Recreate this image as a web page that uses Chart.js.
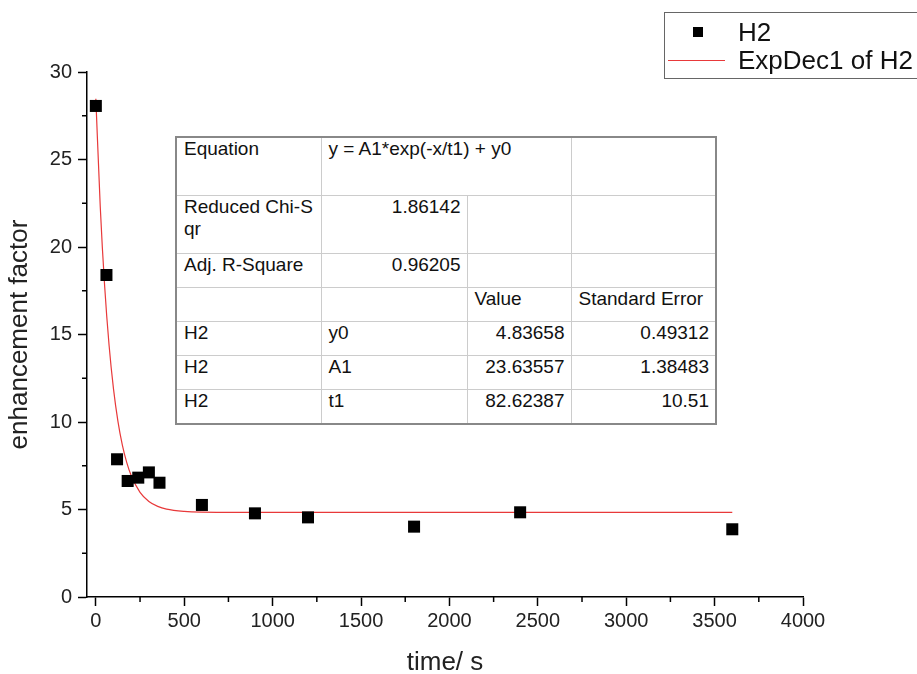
<!DOCTYPE html>
<html>
<head>
<meta charset="utf-8">
<script src="https://cdn.jsdelivr.net/npm/chart.js@4/dist/chart.umd.min.js"></script>
<style>
  body { margin: 0; background: #fff; font-family: "Liberation Sans", Arial, sans-serif; }
  #wrap { position: relative; width: 917px; height: 674px; }
  #legend { position: absolute; left: 664px; top: 12px; width: 260px; height: 67px; border: 1px solid #666; box-sizing: border-box; font-size: 26px; color: #111; }
  #legend .row { position: absolute; left: 0; height: 28px; line-height: 28px; white-space: nowrap; }
  #legend .sq { position: absolute; left: 28px; top: 9px; width: 10px; height: 10px; background: #000; }
  #legend .ln { position: absolute; left: 3px; top: 14px; width: 57px; height: 1px; background: #e8393a; }
  #legend .tx { position: absolute; left: 73px; top: 0; }
  #fitTable { position: absolute; left: 175px; top: 136px; border-collapse: collapse; font-size: 19px; color: #111; background: #fff; border: 2px solid #888; }
  #fitTable td { border: 1px solid #ccc; padding: 0 6px 0 7px; vertical-align: top; line-height: 22px; box-sizing: border-box; white-space: nowrap; }
  #fitTable td.r { text-align: right; }
</style>
</head>
<body>
<div id="wrap">
  <canvas id="chart" width="917" height="674"></canvas>
  <div id="legend">
    <div class="row" style="top:5px;"><span class="sq"></span><span class="tx">H2</span></div>
    <div class="row" style="top:33px;"><span class="ln"></span><span class="tx">ExpDec1 of H2</span></div>
  </div>
  <table id="fitTable"></table>
</div>
<script>
// measured points (time in s, enhancement factor)
const timeH2 = [0, 60, 120, 180, 240, 300, 360, 600, 900, 1200, 1800, 2400, 3600];
const valuesH2 = [28.06, 18.4, 7.87, 6.63, 6.82, 7.12, 6.53, 5.26, 4.78, 4.55, 4.02, 4.84, 3.87];

// fitted curve
const timeFit = [0, 25, 50, 75, 100, 125, 150, 175, 200, 250, 300, 350, 400, 500, 600, 800, 1000, 3600];
const valuesFit = [28.47, 22.30, 17.74, 14.37, 11.88, 10.04, 8.68, 7.68, 6.94, 5.98, 5.46, 5.18, 5.02, 4.89, 4.85, 4.84, 4.84, 4.84];

// axis ticks
const xTicks = [0, 500, 1000, 1500, 2000, 2500, 3000, 3500, 4000];
const xMinor = [250, 750, 1250, 1750, 2250, 2750, 3250, 3750];
const yTicks = [0, 5, 10, 15, 20, 25, 30];
const yMinor = [2.5, 7.5, 12.5, 17.5, 22.5, 27.5];

// fit result table
const tableRows = [
    ['Equation', 'y = A1*exp(-x/t1) + y0', '', ''],
    ['Reduced Chi-S<br>qr', '1.86142', '', ''],
    ['Adj. R-Square', '0.96205', '', ''],
    ['', '', 'Value', 'Standard Error'],
    ['H2', 'y0', '4.83658', '0.49312'],
    ['H2', 'A1', '23.63557', '1.38483'],
    ['H2', 't1', '82.62387', '10.51']
];
const rowHeights = [58, 58, 34, 34, 34, 34, 35];
const colWidths = [145, 146, 104, 145];

function buildTable() {
    const table = document.getElementById('fitTable');
    tableRows.forEach((row, r) => {
        const tr = document.createElement('tr');
        tr.style.height = rowHeights[r] + 'px';
        if (r === 0) {
            const cells = [row[0], row[1], row[3]];
            cells.forEach((txt, i) => {
                const td = document.createElement('td');
                td.innerHTML = txt;
                if (i === 1) td.colSpan = 2;
                tr.appendChild(td);
            });
        } else {
            row.forEach((txt, c) => {
                const td = document.createElement('td');
                td.innerHTML = txt;
                td.style.width = colWidths[c] + 'px';
                td.style.maxWidth = colWidths[c] + 'px';
                if ((r === 1 || r === 2) && c === 1) td.className = 'r';
                if (r >= 4 && c >= 2) td.className = 'r';
                tr.appendChild(td);
            });
        }
        table.appendChild(tr);
    });
}
buildTable();

const font = "'Liberation Sans', Arial, sans-serif";

// short ticks halfway between the labelled ones
const minorTicks = {
    id: 'minorTicks',
    afterDraw(chart) {
        const c = chart.ctx;
        const xs = chart.scales.x, ys = chart.scales.y;
        c.save();
        c.strokeStyle = '#000';
        c.lineWidth = 1.5;
        xMinor.forEach(v => {
            const px = xs.getPixelForValue(v);
            c.beginPath(); c.moveTo(px, xs.top); c.lineTo(px, xs.top + 5); c.stroke();
        });
        yMinor.forEach(v => {
            const py = ys.getPixelForValue(v);
            c.beginPath(); c.moveTo(ys.right, py); c.lineTo(ys.right - 5, py); c.stroke();
        });
        c.restore();
    }
};

new Chart(document.getElementById('chart'), {
    type: 'scatter',
    data: {
        datasets: [{
            label: 'H2',
            data: timeH2.map((t, i) => ({ x: t, y: valuesH2[i] })),
            pointStyle: 'rect',
            pointRadius: 8.5,
            pointHoverRadius: 8.5,
            backgroundColor: '#000',
            borderColor: '#000',
            borderWidth: 0,
            order: 1
        }, {
            label: 'ExpDec1 of H2',
            type: 'line',
            data: timeFit.map((t, i) => ({ x: t, y: valuesFit[i] })),
            borderColor: '#e8393a',
            borderWidth: 1.2,
            pointRadius: 0,
            fill: false,
            cubicInterpolationMode: 'monotone',
            order: 2
        }]
    },
    options: {
        responsive: false,
        animation: false,
        layout: { padding: { top: 72, right: 114, left: 0, bottom: 0 } },
        plugins: { legend: { display: false }, tooltip: { enabled: false } },
        scales: {
            x: {
                type: 'linear',
                min: -50,
                max: 4000,
                afterBuildTicks: (scale) => { scale.ticks = xTicks.map(v => ({ value: v })); },
                afterFit: (scale) => { scale.height = 77; },
                ticks: { color: '#222', font: { family: font, size: 20 }, padding: 3, maxRotation: 0, callback: (v) => String(v) },
                grid: { drawOnChartArea: false, tickLength: 9, tickWidth: 1.5, tickColor: '#000' },
                border: { display: true, color: '#000', width: 1.5 },
                title: { display: true, text: 'time/ s', color: '#222', font: { family: font, size: 26 }, padding: { top: 0, bottom: -4 } }
            },
            y: {
                min: 0,
                max: 30,
                afterBuildTicks: (scale) => { scale.ticks = yTicks.map(v => ({ value: v })); },
                afterFit: (scale) => { scale.width = 87; },
                ticks: { color: '#222', font: { family: font, size: 20 }, padding: 6, callback: (v) => String(v) },
                grid: { drawOnChartArea: false, tickLength: 9, tickWidth: 1.5, tickColor: '#000' },
                border: { display: true, color: '#000', width: 1.5 },
                title: { display: true, text: 'enhancement factor', color: '#222', font: { family: font, size: 26 }, padding: { bottom: 2 } }
            }
        }
    },
    plugins: [minorTicks]
});
</script>
</body>
</html>
